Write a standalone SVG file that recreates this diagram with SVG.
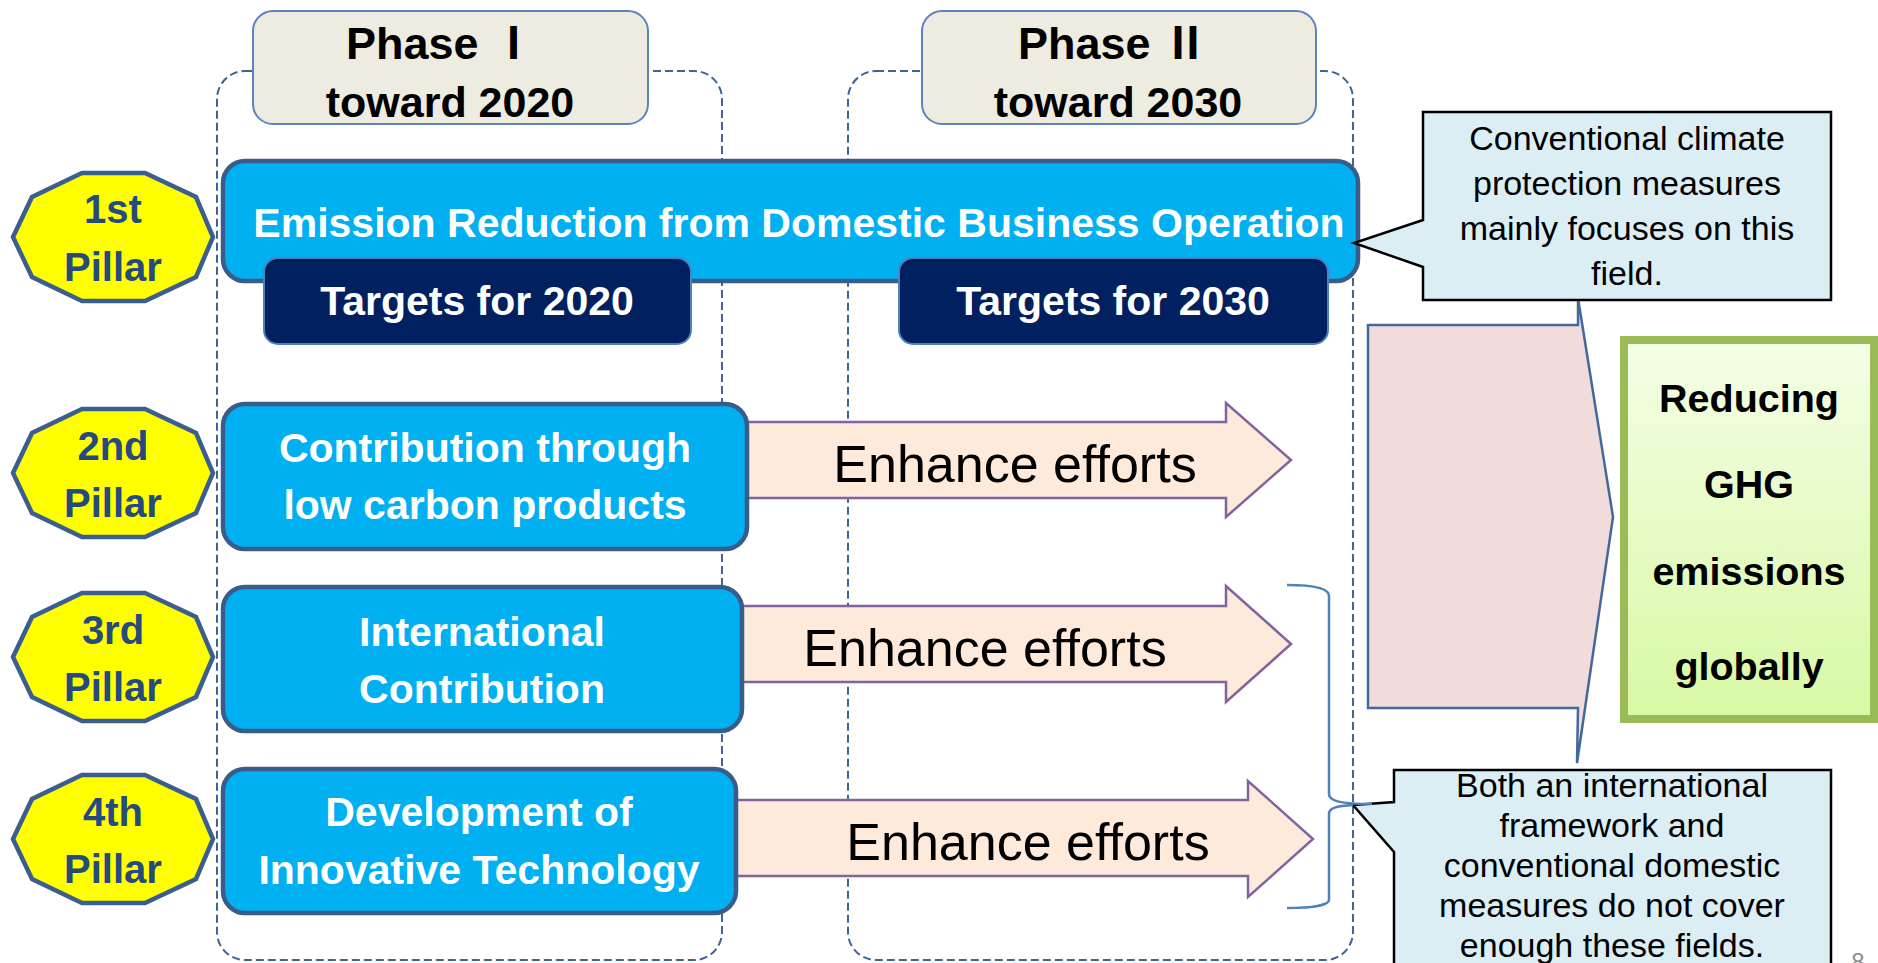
<svg xmlns="http://www.w3.org/2000/svg" xmlns:xlink="http://www.w3.org/1999/xlink" width="1878" height="963" viewBox="0 0 1878 963">
<style>
.frame{fill:none;stroke:#3F6596;stroke-width:2;stroke-dasharray:8 4}
.hdr{fill:#EEECE1;stroke:#5B84BD;stroke-width:2}
.hdrT{font-family:"Liberation Sans","Noto Sans CJK JP",sans-serif;font-weight:bold;fill:#000;text-anchor:middle}
.blue{fill:#00B0F0;stroke:#385D8A;stroke-width:4.5}
.navy{fill:#002060;stroke:#4F81BD;stroke-width:2}
.wT{font-family:"Liberation Sans",Arial,sans-serif;font-weight:bold;font-size:41px;fill:#fff;text-anchor:middle}
.oct{fill:#FFFF00;stroke:#3B5E91;stroke-width:4.5}
.pT{font-family:"Liberation Sans",Arial,sans-serif;font-weight:bold;font-size:40px;fill:#254A7E;text-anchor:middle}
.arr{fill:#FDEADA;stroke:#8064A2;stroke-width:2.5}
.aT{font-family:"Liberation Sans",Arial,sans-serif;font-size:52px;fill:#000;text-anchor:middle}
.bub{fill:#DBEEF4;stroke:#000;stroke-width:2.5}
.bT{font-family:"Liberation Sans",Arial,sans-serif;font-size:34px;fill:#000;text-anchor:middle}
.gT{font-family:"Liberation Sans",Arial,sans-serif;font-weight:bold;font-size:39.5px;fill:#000;text-anchor:middle}
</style>
<defs>
<polygon id="octShape" class="oct" points="-31,-64 32,-64 83,-40 100,0 83,40 32,64 -31,64 -81,40 -100,0 -81,-40"/>
<linearGradient id="greenGrad" x1="0" y1="0" x2="0" y2="1">
<stop offset="0" stop-color="#F4FEE6"/>
<stop offset="1" stop-color="#D9F8A4"/>
</linearGradient>
</defs>
<rect width="1878" height="963" fill="#fff"/>

<g id="frames">
<rect id="frame-phase1" class="frame" x="217" y="71" width="505" height="889" rx="28"/>
<rect id="frame-phase2" class="frame" x="848" y="71" width="505" height="889" rx="28"/>
</g>

<g id="phase1">
<rect class="hdr" x="253" y="11" width="395" height="113" rx="20"/>
<text class="hdrT" x="441" y="59" font-size="45">Phase Ⅰ</text>
<text class="hdrT" x="450" y="117" font-size="43">toward 2020</text>
</g>
<g id="phase2">
<rect class="hdr" x="922" y="11" width="394" height="113" rx="20"/>
<text class="hdrT" x="1113" y="59" font-size="45">Phase Ⅱ</text>
<text class="hdrT" x="1118" y="117" font-size="43">toward 2030</text>
</g>

<g id="connectors">
<polygon id="arrow-2" class="arr" points="700,422 1226,422 1226,403 1291,460 1226,517 1226,498 700,498"/>
<polygon id="arrow-3" class="arr" points="700,606 1226,606 1226,586 1291,644 1226,702 1226,682 700,682"/>
<polygon id="arrow-4" class="arr" points="700,800 1248,800 1248,781 1313,839 1248,897 1248,876 700,876"/>
<text class="aT" x="1015" y="482">Enhance efforts</text>
<text class="aT" x="985" y="666">Enhance efforts</text>
<text class="aT" x="1028" y="860">Enhance efforts</text>
<polygon id="big-arrow" points="1368,325 1578,325 1578,298 1613,517 1577,763 1578,708 1368,708" fill="#F2DCDB" stroke="#41699E" stroke-width="2.5" stroke-linejoin="miter"/>
</g>

<g id="pillar1-box">
<rect class="blue" x="223" y="161" width="1135" height="120" rx="22"/>
<text class="wT" x="799" y="237">Emission Reduction from Domestic Business Operation</text>
</g>
<g id="target2020">
<rect class="navy" x="264" y="258" width="427" height="86" rx="14"/>
<text class="wT" x="477" y="315">Targets for 2020</text>
</g>
<g id="target2030">
<rect class="navy" x="899" y="258" width="429" height="86" rx="14"/>
<text class="wT" x="1113" y="315">Targets for 2030</text>
</g>

<g id="pillar2-box">
<rect class="blue" x="223" y="404" width="524" height="145" rx="22"/>
<text class="wT" x="485" y="462">Contribution through</text>
<text class="wT" x="485" y="519">low carbon products</text>
</g>
<g id="pillar3-box">
<rect class="blue" x="223" y="587" width="519" height="144" rx="22"/>
<text class="wT" x="482" y="646">International</text>
<text class="wT" x="482" y="703">Contribution</text>
</g>
<g id="pillar4-box">
<rect class="blue" x="223" y="769" width="513" height="144" rx="22"/>
<text class="wT" x="479" y="826">Development of</text>
<text class="wT" x="479" y="884">Innovative Technology</text>
</g>

<g id="pillar1">
<use xlink:href="#octShape" href="#octShape" x="113" y="237"/>
<text class="pT" x="113" y="223">1st</text>
<text class="pT" x="113" y="281">Pillar</text>
</g>
<g id="pillar2">
<use xlink:href="#octShape" href="#octShape" x="113" y="473"/>
<text class="pT" x="113" y="460">2nd</text>
<text class="pT" x="113" y="517">Pillar</text>
</g>
<g id="pillar3">
<use xlink:href="#octShape" href="#octShape" x="113" y="657"/>
<text class="pT" x="113" y="644">3rd</text>
<text class="pT" x="113" y="701">Pillar</text>
</g>
<g id="pillar4">
<use xlink:href="#octShape" href="#octShape" x="113" y="839"/>
<text class="pT" x="113" y="826">4th</text>
<text class="pT" x="113" y="883">Pillar</text>
</g>

<g id="callout1">
<path class="bub" d="M1423,112 L1831,112 L1831,300 L1423,300 L1423,267 L1354,243 L1423,220 Z"/>
<text class="bT" x="1627" y="150">Conventional climate</text>
<text class="bT" x="1627" y="195">protection measures</text>
<text class="bT" x="1627" y="240">mainly focuses on this</text>
<text class="bT" x="1627" y="285">field.</text>
</g>

<g id="goal">
<rect x="1624" y="340" width="250" height="379" fill="url(#greenGrad)" stroke="#9BBB59" stroke-width="8"/>
<text class="gT" x="1749" y="412">Reducing</text>
<text class="gT" x="1749" y="498">GHG</text>
<text class="gT" x="1749" y="585">emissions</text>
<text class="gT" x="1749" y="680">globally</text>
</g>

<g id="callout2">
<path class="bub" d="M1394,770 L1831,770 L1831,975 L1394,975 L1394,852 L1353,805 L1394,802 Z"/>
<text class="bT" x="1612" y="797">Both an international</text>
<text class="bT" x="1612" y="837">framework and</text>
<text class="bT" x="1612" y="877">conventional domestic</text>
<text class="bT" x="1612" y="917">measures do not cover</text>
<text class="bT" x="1612" y="957">enough these fields.</text>
</g>

<g id="brace">
<path d="M1287,585 C1312,585 1329,588 1329,596 L1329,794 C1329,801 1340,804 1372,804 M1353,805 C1336,806 1329,808 1329,814 L1329,900 C1329,905 1312,908 1287,908" fill="none" stroke="#4F81BD" stroke-width="2.5"/>
</g>

<text x="1858" y="970" font-family="Liberation Sans, Arial, sans-serif" font-size="24" fill="#8C8C8C" text-anchor="middle">8</text>
</svg>
